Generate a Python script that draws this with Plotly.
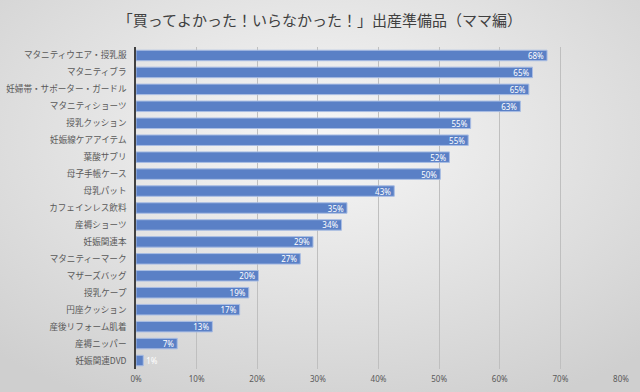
import plotly.graph_objects as go
import base64

categories = [
    "マタニティウエア・授乳服", "マタニティブラ", "妊婦帯・サポーター・ガードル",
    "マタニティショーツ", "授乳クッション", "妊娠線ケアアイテム", "葉酸サプリ",
    "母子手帳ケース", "母乳パット", "カフェインレス飲料", "産褥ショーツ",
    "妊娠関連本", "マタニティーマーク", "マザーズバッグ", "授乳ケープ",
    "円座クッション", "産後リフォーム肌着", "産褥ニッパー", "妊娠関連DVD",
]
values = [67.8, 65.4, 64.8, 63.4, 55.2, 54.8, 51.7, 50.2, 42.6, 34.8, 33.9,
          29.2, 27.1, 20.2, 18.6, 17.1, 12.6, 6.8, 1.2]
labels = [f"{round(v)}%" for v in values]
tick_vals = [0, 10, 20, 30, 40, 50, 60, 70, 80]
tick_text = [f"{t}%" for t in tick_vals]

svg = ('<svg xmlns="http://www.w3.org/2000/svg" width="640" height="392">'
       '<defs><radialGradient id="g" cx="50%" cy="35%" r="75%">'
       '<stop offset="0%" stop-color="#f7f7f7"/><stop offset="100%" stop-color="#cfcfcf"/>'
       '</radialGradient></defs><rect width="640" height="392" fill="url(#g)"/></svg>')
bg = "data:image/svg+xml;base64," + base64.b64encode(svg.encode()).decode()

L, R, T, B = 136, 19, 47, 23
PW, PH = 640 - L - R, 392 - T - B

fig = go.Figure(go.Bar(
    x=values, y=categories, orientation="h",
    marker=dict(color="#5a80c6", line=dict(color="#a9bde3", width=1)),
    text=labels,
    textposition=["inside" if v > 3 else "outside" for v in values],
    insidetextanchor="end",
    textfont=dict(color="white", size=8, family="Noto Sans"),
    outsidetextfont=dict(color="white", size=8, family="Noto Sans"),
    cliponaxis=False,
))
fig.update_layout(
    width=640, height=392,
    margin=dict(l=L, r=R, t=T, b=B, autoexpand=False),
    paper_bgcolor="#e4e4e4", plot_bgcolor="rgba(0,0,0,0)",
    bargap=0.38,
    showlegend=False,
    uniformtext=dict(minsize=8, mode="show"),
    title=dict(text="「買ってよかった！いらなかった！」出産準備品（ママ編）",
               x=0.5, xanchor="center", y=0.947, yanchor="middle",
               font=dict(size=15, color="#404040", family="Noto Sans CJK JP")),
    images=[dict(source=bg, xref="paper", yref="paper",
                 x=-L / PW, y=1 + T / PH, sizex=640 / PW, sizey=392 / PH,
                 xanchor="left", yanchor="top", layer="below", sizing="stretch")],
    font=dict(family="Noto Sans CJK JP", color="#595959"),
)
fig.update_xaxes(range=[0, 80], tickvals=tick_vals, ticktext=tick_text, automargin=False,
                 showgrid=True, gridcolor="#bfbfbf", gridwidth=1, zeroline=False,
                 tickfont=dict(size=8, color="#595959", family="Noto Sans"), ticks="", ticklabelstandoff=4)
fig.update_yaxes(autorange="reversed", showline=True, linecolor="#404040", linewidth=1.5, automargin=False,
                 tickfont=dict(size=8.6, color="#595959"), ticks="", ticklabelstandoff=6)
fig.write_html("out.html", config={"displayModeBar": False},
               post_script="document.body.style.margin='0';document.body.style.overflow='hidden';")
